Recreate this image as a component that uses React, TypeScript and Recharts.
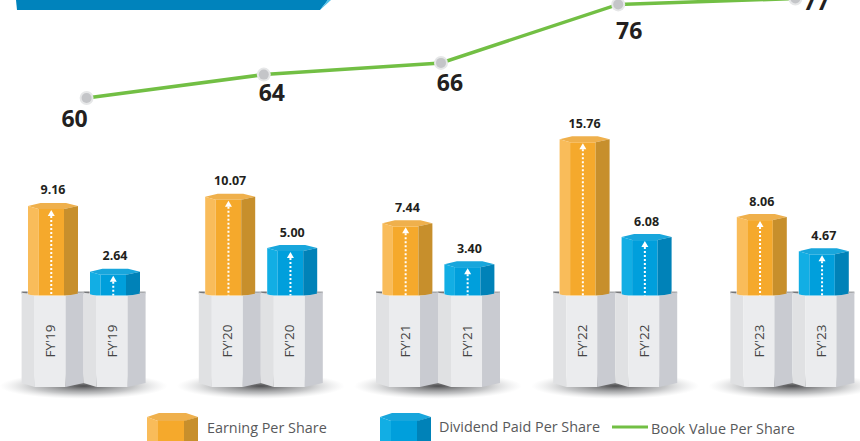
import React from 'react';
import { ComposedChart, Bar, Line, XAxis, YAxis, LabelList } from 'recharts';

const categories = ["FY'19", "FY'20", "FY'21", "FY'22", "FY'23"];
const earningPerShare = [9.16, 10.07, 7.44, 15.76, 8.06];
const dividendPerShare = [2.64, 5.0, 3.4, 6.08, 4.67];
const bookValuePerShare = [60, 64, 66, 76, 77];

const chartData = categories.map((fy, i) => ({
  fy,
  eps: earningPerShare[i],
  dps: dividendPerShare[i],
  bvps: bookValuePerShare[i],
}));

const FONT = '"Open Sans", sans-serif';
const ORANGE = { left: '#f9bc5a', mid: '#f5a92c', right: '#c78f2c', top: '#efb04c' };
const BLUE = { left: '#12aee4', mid: '#009fdc', right: '#0082b8', top: '#18a6dc' };

// hexagonal prism used for both bar series
const prism = (c: typeof ORANGE) => (props: any) => {
  const { x, y, width: w, height: h } = props;
  const a = x + w * 0.21;
  const b = x + w * 0.72;
  const cx = (a + b) / 2;
  const bottom = y + h;
  return (
    <g>
      <polygon points={`${x},${y + 3} ${a + 2},${y} ${b + 2},${y} ${x + w},${y + 3} ${b},${y + 6} ${a},${y + 6}`} fill={c.top} />
      <polygon points={`${x},${y + 3} ${a},${y + 6} ${a},${bottom} ${x},${bottom}`} fill={c.left} />
      <rect x={a} y={y + 6} width={b - a} height={h - 6} fill={c.mid} />
      <polygon points={`${b},${y + 6} ${x + w},${y + 3} ${x + w},${bottom} ${b},${bottom}`} fill={c.right} />
      <line x1={cx} x2={cx} y1={y + 13} y2={bottom} stroke="#fff" strokeWidth={2} strokeDasharray="2 2" />
      <polygon points={`${cx},${y + 7} ${cx + 3.5},${y + 13} ${cx - 3.5},${y + 13}`} fill="#fff" />
    </g>
  );
};

// one pedestal piece under a bar, the ticks paint over the bar feet
const Pedestal = ({ x, w, label }: { x: number; w: number; label: string }) => {
  const a = x + w * 0.21;
  const b = x + w * 0.71;
  const mid = (a + b) / 2;
  return (
    <g>
      <rect x={x} y={291.5} width={6} height={2} fill="#77787b" />
      <rect x={x + w - 6} y={291.5} width={6} height={2} fill="#a7a9ac" />
      <polygon points={`${x},292.5 ${a},296 ${a},387 ${x},383`} fill="#e0e1e3" />
      <rect x={a} y={296} width={b - a} height={91} fill="#ebecee" />
      <polygon points={`${b},296 ${x + w},292.5 ${x + w},383 ${b},387`} fill="#c9cbd1" />
      <text
        x={mid}
        y={341}
        transform={`rotate(-90 ${mid} 341)`}
        textAnchor="middle"
        dominantBaseline="central"
        fontFamily={FONT}
        fontSize={13.5}
        fill="#444"
      >
        {label}
      </text>
    </g>
  );
};

// axis tick carries the pedestals and their floor shadow
const PedestalTick = (props: any) => {
  const { x, payload } = props;
  return (
    <g>
      <ellipse cx={x} cy={386} rx={84} ry={13} fill="url(#floorShadow)" />
      <Pedestal x={x - 62} w={62} label={payload.value} />
      <Pedestal x={x} w={62} label={payload.value} />
    </g>
  );
};

const labelNudge = [-12, 8, 9, 11, 21];
const labelDrop = [20, 17, 19, 26, 2];

const BookLabel = (props: any) => {
  const { x, y, value, index } = props;
  return (
    <text
      x={x + labelNudge[index]}
      y={y + labelDrop[index]}
      textAnchor="middle"
      dominantBaseline="central"
      fontFamily={FONT}
      fontWeight={700}
      fontSize={23}
      fill="#231f20"
    >
      {value}
    </text>
  );
};

const BookDot = (props: any) => {
  const { cx, cy } = props;
  return (
    <g>
      <circle cx={cx} cy={cy} r={7} fill="#e6e7e8" />
      <circle cx={cx} cy={cy} r={5} fill="#c4c5c8" />
    </g>
  );
};

const barLabel = (props: any) => {
  const { x, y, width, value } = props;
  return (
    <text x={x + width / 2} y={y - 13} textAnchor="middle" dominantBaseline="central" fontFamily={FONT} fontWeight={700} fontSize={12.5} fill="#231f20">
      {value.toFixed(2)}
    </text>
  );
};

const legendLabel = { fontFamily: FONT, fontSize: 14.4, fill: '#58595b' };

const LegendKey = ({ x, y, c }: { x: number; y: number; c: typeof ORANGE }) => (
  <g>
    <polygon points={`${x},${y + 4} ${x + 12},${y} ${x + 39},${y + 0} ${x + 51},${y + 4} ${x + 38},${y + 8} ${x + 11},${y + 8}`} fill={c.top} />
    <polygon points={`${x},${y + 4} ${x + 11},${y + 8} ${x + 11},${y + 28} ${x},${y + 28}`} fill={c.left} />
    <rect x={x + 11} y={y + 8} width={26} height={20} fill={c.mid} />
    <polygon points={`${x + 37},${y + 8} ${x + 51},${y + 4} ${x + 51},${y + 28} ${x + 37},${y + 28}`} fill={c.right} />
  </g>
);

export default function App() {
  return (
    <div style={{ position: 'absolute', left: 0, top: 0, width: 860, height: 441, background: '#fff' }}>
      <ComposedChart
        width={860}
        height={441}
        data={chartData}
        margin={{ top: -10, right: -21, bottom: 144.5, left: -5 }}
        barSize={50}
        barGap={12}
      >
        <defs>
          <radialGradient id="floorShadow">
            <stop offset="0%" stopColor="#3a3a3c" stopOpacity={0.9} />
            <stop offset="60%" stopColor="#808285" stopOpacity={0.45} />
            <stop offset="100%" stopColor="#bcbec0" stopOpacity={0} />
          </radialGradient>
        </defs>
        <polygon points="16,0 328,0 320,10 17,10" fill="#0083bc" />
        <polygon points="320,10 328,0 331,0" fill="#4fc0e8" />
        <XAxis dataKey="fy" axisLine={false} tickLine={false} tick={(p: any) => <PedestalTick {...p} />} interval={0} height={1} />
        <XAxis xAxisId="book" dataKey="fy" hide padding={{ left: 3, right: -3 }} />
        <YAxis yAxisId="per" hide domain={[0, 30.25]} />
        <YAxis yAxisId="book" hide orientation="right" domain={[26.24, 78.46]} allowDataOverflow />
        <Bar yAxisId="per" dataKey="eps" name="Earning Per Share" shape={prism(ORANGE)} isAnimationActive={false}>
          <LabelList dataKey="eps" content={barLabel} />
        </Bar>
        <Bar yAxisId="per" dataKey="dps" name="Dividend Paid Per Share" shape={prism(BLUE)} isAnimationActive={false}>
          <LabelList dataKey="dps" content={barLabel} />
        </Bar>
        <Line
          xAxisId="book"
          yAxisId="book"
          dataKey="bvps"
          name="Book Value Per Share"
          stroke="#72bf44"
          strokeWidth={3.5}
          dot={<BookDot />}
          activeDot={false}
          isAnimationActive={false}
        >
          <LabelList dataKey="bvps" content={<BookLabel />} />
        </Line>
        <LegendKey x={147} y={413} c={ORANGE} />
        <text x={207} y={427} dominantBaseline="central" {...legendLabel}>Earning Per Share</text>
        <LegendKey x={380} y={413} c={BLUE} />
        <text x={439} y={426} dominantBaseline="central" {...legendLabel}>Dividend Paid Per Share</text>
        <line x1={612} x2={648} y1={427} y2={427} stroke="#72bf44" strokeWidth={3} />
        <text x={651} y={428} dominantBaseline="central" {...legendLabel}>Book Value Per Share</text>
      </ComposedChart>
    </div>
  );
}
